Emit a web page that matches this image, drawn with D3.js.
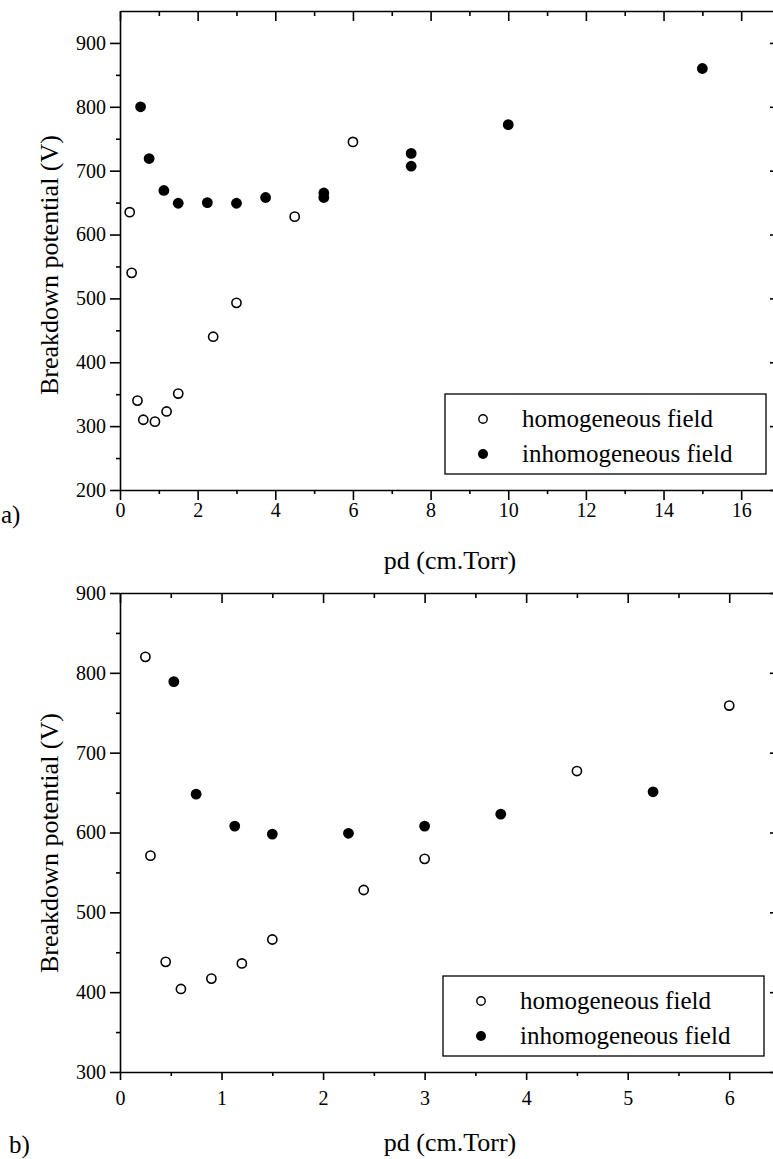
<!DOCTYPE html>
<meta charset="utf-8">
<style>

body {
  margin: 0;
  background: #fff;
}

svg {
  display: block;
  font-family: "Liberation Serif", "Times New Roman", serif;
}

.axis path,
.axis line {
  fill: none;
  stroke: #000;
  stroke-width: 1.6;
}

</style>
<body>

<script src="https://d3js.org/d3.v7.min.js"></script>

<script>

// a) values
var aHomX = [0.25, 0.3, 0.45, 0.6, 0.9, 1.2, 1.5, 2.4, 3.0, 4.5, 6.0];
var aHomY = [635, 540, 340, 310, 307, 323, 351, 440, 493, 628, 745];
var aInhX = [0.53, 0.75, 1.13, 1.5, 2.25, 3.0, 3.75, 5.25, 5.25, 7.5, 7.5, 10, 15];
var aInhY = [800, 719, 669, 649, 650, 649, 658, 665, 658, 727, 707, 772, 860];

// b)
var bHomX = [0.25, 0.3, 0.45, 0.6, 0.9, 1.2, 1.5, 2.4, 3.0, 4.5, 6.0];
var bHomY = [820, 571, 438, 404, 417, 436, 466, 528, 567, 677, 759];
var bInhX = [0.53, 0.75, 1.13, 1.5, 2.25, 3.0, 3.75, 5.25];
var bInhY = [789, 648, 608, 598, 599, 608, 623, 651];

// tick labels
var aXTicks = [0, 2, 4, 6, 8, 10, 12, 14, 16];
var aXMinor = [1, 3, 5, 7, 9, 11, 13, 15];
var aYTicks = [200, 300, 400, 500, 600, 700, 800, 900];
var aYMinor = [250, 350, 450, 550, 650, 750, 850];
var bXTicks = [0, 1, 2, 3, 4, 5, 6];
var bXMinor = [0.5, 1.5, 2.5, 3.5, 4.5, 5.5];
var bYTicks = [300, 400, 500, 600, 700, 800, 900];
var bYMinor = [350, 450, 550, 650, 750, 850];

var legendLabels = ['homogeneous field', 'inhomogeneous field'];
var xTitle = 'pd (cm.Torr)';
var yTitle = 'Breakdown potential (V)';

var serif = '"Liberation Serif", "Times New Roman", serif';

var svg = d3.select('body').append('svg')
    .attr('width', 773)
    .attr('height', 1159);

function zip(xs, ys) {
  return xs.map(function(v, i) { return {x: v, y: ys[i]}; });
}

// d3 puts font-family="sans-serif" on the axis group, force serif on the labels
function axisG(g, tr, axis) {
  var a = g.append('g').attr('class', 'axis')
      .attr('transform', tr)
      .call(axis);
  a.selectAll('text')
      .style('font-family', serif)
      .style('font-size', '20px')
      .style('fill', '#000');
  return a;
}

function panel(o) {
  var x = d3.scaleLinear().domain(o.xDomain).range([120, 780]);
  var y = d3.scaleLinear().domain(o.yDomain).range([o.bottom, o.top]);

  var g = svg.append('g');

  // bottom
  axisG(g, 'translate(0,' + o.bottom + ')',
      d3.axisBottom(x).tickValues(o.xTicks).tickSize(o.xTick).tickSizeOuter(0)
        .tickPadding(o.xPad).tickFormat(d3.format('d')));
  axisG(g, 'translate(0,' + o.bottom + ')',
      d3.axisBottom(x).tickValues(o.xMinor).tickSize(4).tickFormat(''))
      .select('.domain').remove();

  // top (inward)
  axisG(g, 'translate(0,' + o.top + ')',
      d3.axisTop(x).tickValues(o.xTicks).tickSize(-10).tickSizeOuter(0).tickFormat(''));
  axisG(g, 'translate(0,' + o.top + ')',
      d3.axisTop(x).tickValues(o.xMinor).tickSize(-5).tickFormat(''))
      .select('.domain').remove();

  // left
  axisG(g, 'translate(120,0)',
      d3.axisLeft(y).tickValues(o.yTicks).tickSize(10).tickSizeOuter(0).tickPadding(4));
  axisG(g, 'translate(120,0)',
      d3.axisLeft(y).tickValues(o.yMinor).tickSize(4).tickFormat(''))
      .select('.domain').remove();

  // right (inward, mostly off the page)
  axisG(g, 'translate(780,0)',
      d3.axisRight(y).tickValues(o.yTicks).tickSize(-10).tickSizeOuter(0).tickFormat(''));

  g.append('g').selectAll('circle.hom')
      .data(zip(o.homX, o.homY))
    .enter().append('circle')
      .attr('cx', function(d) { return x(d.x); })
      .attr('cy', function(d) { return y(d.y); })
      .attr('r', 4.6)
      .attr('fill', '#fff')
      .attr('stroke', '#000')
      .attr('stroke-width', 1.6);

  g.append('g').selectAll('circle.inh')
      .data(zip(o.inhX, o.inhY))
    .enter().append('circle')
      .attr('cx', function(d) { return x(d.x); })
      .attr('cy', function(d) { return y(d.y); })
      .attr('r', 5.4)
      .attr('fill', '#000');

  // legend
  var lg = g.append('g').attr('transform', 'translate(' + o.legend[0] + ',' + o.legend[1] + ')');
  lg.append('rect')
      .attr('width', 321).attr('height', 80)
      .attr('fill', '#fff').attr('stroke', '#000').attr('stroke-width', 1.3);
  legendLabels.forEach(function(t, i) {
    lg.append('circle')
        .attr('cx', 38).attr('cy', 25 + i * 35)
        .attr('r', i ? 5 : 4.2)
        .attr('fill', i ? '#000' : '#fff')
        .attr('stroke', '#000').attr('stroke-width', i ? 0 : 1.4);
    lg.append('text')
        .attr('x', 77).attr('y', 25 + i * 35).attr('dy', '0.33em')
        .style('font-size', '25px')
        .text(t);
  });

  g.append('text')
      .attr('x', 450).attr('y', o.bottom + 79)
      .attr('text-anchor', 'middle')
      .style('font-size', '26px')
      .text(xTitle);

  g.append('text')
      .attr('transform', 'translate(58,' + o.yTitleMid + ') rotate(-90)')
      .attr('text-anchor', 'middle')
      .style('font-size', '26px')
      .text(yTitle);

  g.append('text')
      .attr('x', o.tag[0]).attr('y', o.tag[1])
      .style('font-size', '25px')
      .text(o.tagText);
}

panel({
  top: 11, bottom: 490,
  xDomain: [0, 17], yDomain: [200, 950],
  xTicks: aXTicks, xMinor: aXMinor, yTicks: aYTicks, yMinor: aYMinor,
  xTick: 10, xPad: 3,
  homX: aHomX, homY: aHomY, inhX: aInhX, inhY: aInhY,
  legend: [445, 394], yTitleMid: 265,
  tag: [1, 523], tagText: 'a)'
});

panel({
  top: 593, bottom: 1072,
  xDomain: [0, 6.5], yDomain: [300, 900],
  xTicks: bXTicks, xMinor: bXMinor, yTicks: bYTicks, yMinor: bYMinor,
  xTick: 8, xPad: 11,
  homX: bHomX, homY: bHomY, inhX: bInhX, inhY: bInhY,
  legend: [443, 976], yTitleMid: 843,
  tag: [9, 1153], tagText: 'b)'
});

</script>
</body>
